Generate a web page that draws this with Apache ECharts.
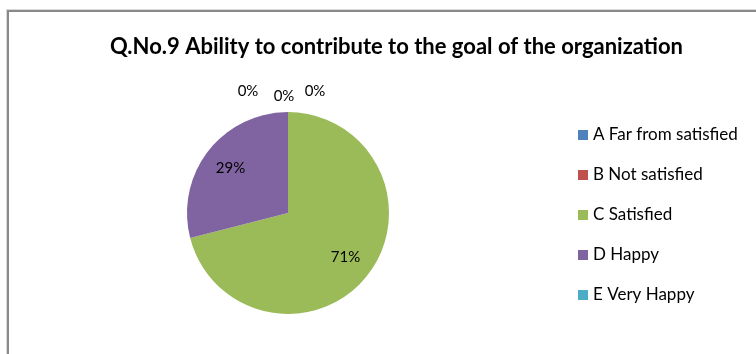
<!DOCTYPE html>
<html>
<head>
<meta charset="utf-8">
<script src="https://cdn.jsdelivr.net/npm/echarts@6/dist/echarts.min.js"></script>
<style>
  html, body { margin: 0; padding: 0; background: #fff; }
  #wrap { position: relative; width: 756px; height: 354px; overflow: hidden; }
  #frame { position: absolute; left: 7px; top: 10px; width: 800px; height: 400px;
           border-left: 2px solid #8a8a8a; border-top: 2px solid #8a8a8a; box-shadow: -1px -1px 0 #d9d9d9; }
  #chart { position: absolute; left: 0; top: 0; width: 756px; height: 354px; }
</style>
</head>
<body>
<div id="wrap">
  <div id="frame"></div>
  <div id="chart"></div>
</div>
<script>
var titleText = 'Q.No.9 Ability to contribute to the goal of the organization';
var categories = ['A Far from satisfied', 'B Not satisfied', 'C Satisfied', 'D Happy', 'E Very Happy'];
var values = [0, 0, 71, 29, 0];
var colors = ['#4F81BD', '#C0504D', '#9BBB59', '#8064A2', '#4BACC6'];
// where the 0% labels sit, relative to the pie centre
var zeroLabelOffsets = { 0: [-40, -122], 1: [-4, -117], 4: [27, -122] };

var CX = 288, CY = 213, R = 101;
var total = values.reduce(function (a, b) { return a + b; }, 0);

function pct(v) { return Math.round(v / total * 100) + '%'; }

var chart = echarts.init(document.getElementById('chart'));

var pieData = categories.map(function (name, i) {
	return { name: name, value: values[i], itemStyle: { color: colors[i] } };
});

chart.setOption({
	animation: false,
	title: {
		text: titleText,
		left: 110,
		top: 36,
		padding: 0,
		textStyle: { fontFamily: 'Lato', fontWeight: 'bold', fontSize: 22, color: '#000' }
	},
	legend: {
		orient: 'vertical',
		left: 578,
		top: 125,
		padding: 0,
		itemWidth: 10,
		itemHeight: 10,
		itemGap: 20,
		icon: 'rect',
		data: categories,
		textStyle: { fontFamily: 'Lato', fontSize: 17, color: '#000', lineHeight: 20 }
	},
	series: [
		{
			type: 'pie',
			center: [CX, CY],
			radius: R,
			startAngle: 90,
			clockwise: true,
			avoidLabelOverlap: false,
			silent: true,
			data: pieData,
			itemStyle: { borderWidth: 0 },
			label: {
				show: true,
				position: 'outside',
				fontFamily: 'Lato',
				fontSize: 15,
				color: '#000',
				formatter: function (p) { return p.value === 0 ? pct(p.value) : ''; }
			},
			labelLine: { show: false },
			labelLayout: function (p) {
				var off = zeroLabelOffsets[p.dataIndex];
				if (!off) return {};
				return { x: CX + off[0], y: CY + off[1], align: 'center', verticalAlign: 'middle' };
			}
		},
		{
			// transparent ring only used to put the value labels at ~0.68 R
			type: 'pie',
			center: [CX, CY],
			radius: [0, R * 1.38],
			startAngle: 90,
			clockwise: true,
			silent: true,
			legendHoverLink: false,
			data: categories.map(function (name, i) {
				return { name: name, value: values[i], itemStyle: { color: 'rgba(0,0,0,0)' } };
			}),
			label: {
				show: true,
				position: 'inside',
				fontFamily: 'Lato',
				fontSize: 15,
				color: '#000',
				formatter: function (p) { return p.value === 0 ? '' : pct(p.value); }
			},
			labelLine: { show: false }
		}
	]
});
</script>
</body>
</html>
